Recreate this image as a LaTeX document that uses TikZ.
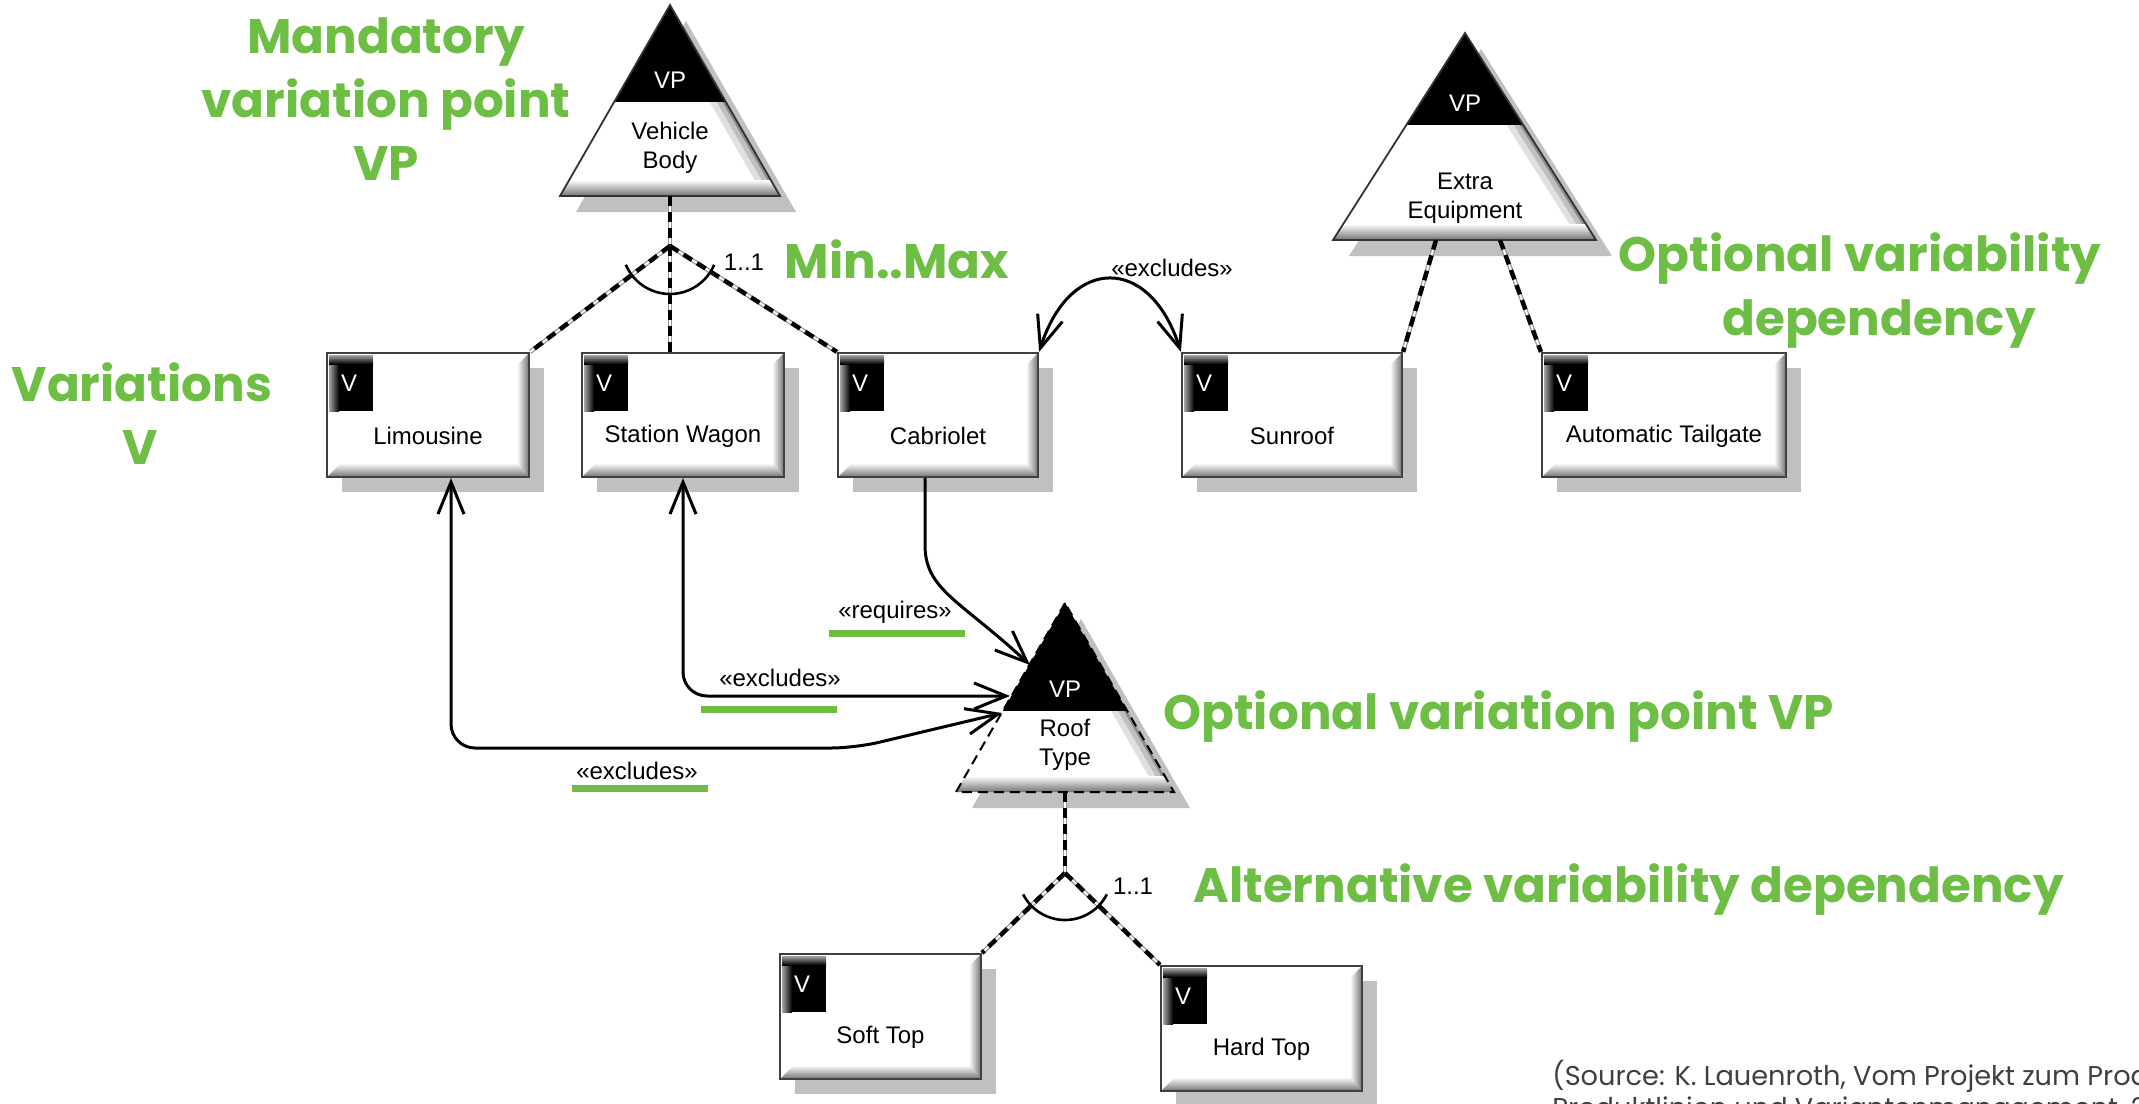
\documentclass[tikz,border=0pt]{standalone}
\usepackage{fontspec}
\setmainfont{Liberation Sans}
\newfontfamily\gfont{Poppins}
\usetikzlibrary{arrows.meta,fit,calc}
\definecolor{gcol}{RGB}{110,190,70}
\definecolor{shadowc}{RGB}{192,192,192}
\definecolor{srcgray}{RGB}{64,64,64}
\tikzset{
 lbl/.style={font=\fontsize{12}{14.5}\selectfont, inner sep=0pt, text=black},
 vlbl/.style={font=\fontsize{12}{14.5}\selectfont, inner sep=0pt, text=white},
 glbl/.style={font=\gfont\bfseries\fontsize{24.2}{29}\selectfont, text=gcol, inner sep=0pt},
 srclbl/.style={font=\gfont\fontsize{13.6}{16}\selectfont, text=srcgray, inner sep=0pt},
 boxline/.style={draw=black!75, line width=1.1pt},
 triout/.style={draw=black!80, line width=0.9pt},
 vpdep/.style={draw=black!40, line width=2.2pt, postaction={draw=white, line width=0.9pt}, postaction={draw=black, line width=2.2pt, dash pattern=on 5pt off 3pt}},
 dep/.style={draw=black, line width=1.5pt},
 >={Straight Barb[length=16pt,width=13pt]},
}
\newcommand{\varbox}[6]{%
  \fill[shadowc] (#2+15,#3+15) rectangle (#4+15,#5+15);
  \fill[white] (#2,#3) rectangle (#4,#5);
  \shade[top color=white,bottom color=black!55] (#2,#5) -- (#4,#5) -- (#4-12,#5-14) -- (#2+14,#5-14) -- cycle;
  \shade[left color=white,right color=black!55] (#4,#3) -- (#4,#5) -- (#4-12,#5-14) -- (#4-12,#3+12) -- cycle;
  \fill[black] (#2+2,#3+2) rectangle (#2+46,#3+58);
  \shade[left color=black!35,right color=black] (#2+2,#3+2) rectangle (#2+12,#3+58);
  \shade[top color=black!35,bottom color=black] (#2+2,#3+2) rectangle (#2+46,#3+11);
  \coordinate (#1-a) at (#2,#3);
  \coordinate (#1-b) at (#4,#5);
  \node[boxline, fit=(#1-a)(#1-b), inner sep=0pt] (#1) {};
  \node[vlbl] (#1-v) at (#2+22,#3+30) {V};
  \node[lbl] (#1-t) at ({(#2+#4)/2},#3+83) {#6};
}
\newcommand{\vptri}[9]{%
  \fill[shadowc] (#2+16,#3+16) -- (#4+16,#6+16) -- (#5+16,#6+16) -- cycle;
  \begin{scope}
    \clip (#2,#3) -- (#4,#6) -- (#5,#6) -- cycle;
    \fill[white] (#4,#3) rectangle (#5,#6);
    \draw[black!12, line width=14pt] (#2,#3) -- (#5,#6);
    \draw[black!25, line width=8pt] (#2,#3) -- (#5,#6);
    \draw[black!45, line width=3pt] (#2,#3) -- (#5,#6);
    \shade[top color=white,bottom color=black!55] (#4,#6-16) rectangle (#5,#6);
    \fill[black] (#4,#3) rectangle (#5,#7);
  \end{scope}
  \draw[triout] (#2,#3) -- (#4,#6) -- (#5,#6) -- cycle;
  \coordinate (#1-top) at (#2,#3);
  \coordinate (#1) at ({(#4+#5)/2},#6);
  \node[vlbl] (#1-v) at (#2,#7-22) {VP};
  \node[lbl, align=center] (#1-t) at (#2,#9) {#8};
}
\begin{document}
\begin{tikzpicture}[x=0.5pt,y=-0.5pt]
\useasboundingbox (0,0) rectangle (2139,1103);
\clip (0,0) rectangle (2139,1103);
\fill[white] (0,0) rectangle (2139,1103);

% variation points
\vptri{vb}{670}{5}{560}{780}{196}{102}{Vehicle\\Body}{148}
\vptri{ee}{1465}{33}{1333}{1596}{240}{125}{Extra\\Equipment}{198}
\begin{scope}[triout/.style={draw=black, line width=1pt, dash pattern=on 5pt off 3pt}]
\vptri{rt}{1065}{603}{956}{1174}{792}{711}{Roof\\Type}{745}
\end{scope}

% variants
\varbox{lim}{327}{353}{529}{477}{Limousine}
\varbox{sw}{582}{353}{784}{477}{Station Wagon}
\varbox{cab}{838}{353}{1038}{477}{Cabriolet}
\varbox{sun}{1182}{353}{1402}{477}{Sunroof}
\varbox{atg}{1542}{353}{1786}{477}{Automatic Tailgate}
\varbox{soft}{780}{954}{981}{1079}{Soft Top}
\varbox{hard}{1161}{966}{1362}{1091}{Hard Top}

% variability dependencies
\coordinate (vbJ) at (670,246);
\draw[vpdep] (vb) -- (vbJ);
\draw[vpdep] (vbJ) -- (lim.north east);
\draw[vpdep] (vbJ) -- (vbJ |- sw.north);
\draw[vpdep] (vbJ) -- (cab.north west);
\draw[line width=1.3pt] (vbJ) ++(157:48) arc[start angle=157, end angle=23, radius=48];
\node[lbl] (vbm) at (744,262) {1..1};

\coordinate (eeL) at (1436,240);
\coordinate (eeR) at (1500,240);
\draw[vpdep] (eeL) -- (sun.north east);
\draw[vpdep] (eeR) -- (atg.north west);

\coordinate (rtJ) at (1065,873);
\draw[vpdep] (rt) -- (rtJ);
\draw[vpdep] (rtJ) -- (soft.north east);
\draw[vpdep] (rtJ) -- (hard.north west);
\draw[line width=1.3pt] (rtJ) ++(153:47) arc[start angle=153, end angle=27, radius=47];
\node[lbl] (rtm) at (1133,886) {1..1};

% constraint dependencies
\draw[dep,<->] (cab.north east) .. controls (1070,255) and (1150,255) .. (sun.north west);
\node[lbl] (ex1) at (1172,268) {«excludes»};

\coordinate (rtReq) at (1030,665);
\draw[dep,->] ([xshift=-6.5pt]cab.south) -- (925,545) .. controls (925,590) and (960,600) .. (rtReq);
\node[lbl] (req) at (895,612) {«requires»};
\fill[gcol] (829,630) rectangle (965,637);

\coordinate (rtSW) at (1010,696);
\draw[dep,<->,rounded corners=12pt] (sw.south) -- (sw.south |- rtSW) -- (rtSW);
\node[lbl] (ex2) at (780,678) {«excludes»};
\fill[gcol] (701,706) rectangle (837,713);

\coordinate (rtLim) at (1002,713);
\coordinate (rtLimH) at (855,748);
\draw[dep,<->,rounded corners=12pt] ([xshift=11.5pt]lim.south) -- ([xshift=11.5pt]lim.south |- rtLimH) -- (rtLimH) -- (rtLim);
\node[lbl] (ex3) at (637,771) {«excludes»};
\fill[gcol] (572,785) rectangle (708,792);

% annotations
\node[glbl, anchor=base] (a1) at (386,54) {Mandatory};
\node[glbl, anchor=base] (a2) at (386,117) {variation point};
\node[glbl, anchor=base] (a3) at (386,180) {VP};
\node[glbl, anchor=base] (a4) at (142,401) {Variations};
\node[glbl, anchor=base] (a5) at (140,464) {V};
\node[glbl, anchor=base] (a6) at (897,278) {Min..Max};
\node[glbl, anchor=base] (a7) at (1860,271) {Optional variability};
\node[glbl, anchor=base] (a8) at (1879,335) {dependency};
\node[glbl, anchor=base west] (a9) at (1163,729) {Optional variation point VP};
\node[glbl, anchor=base west] (a10) at (1193,902) {Alternative variability dependency};

\node[srclbl, anchor=base west] (s1) at (1552,1085) {(Source: K. Lauenroth, Vom Projekt zum Produkt};
\node[srclbl, anchor=base west] (s2) at (1552,1117) {Produktlinien und Variantenmanagement, 2010)};
\end{tikzpicture}
\end{document}
